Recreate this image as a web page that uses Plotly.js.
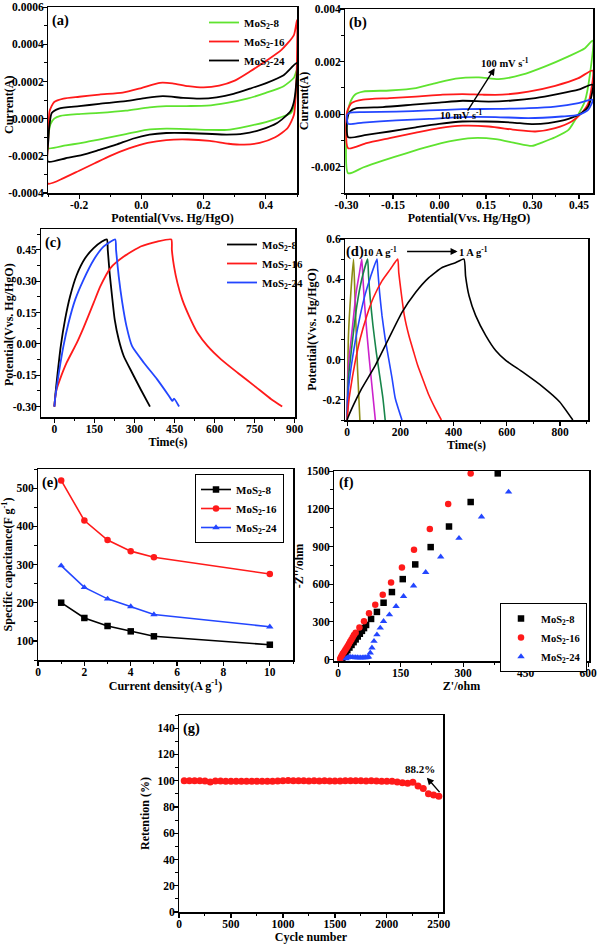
<!DOCTYPE html>
<html><head><meta charset="utf-8">
<script src="https://cdn.plot.ly/plotly-3.0.1.min.js"></script>
<style>html,body{margin:0;padding:0;background:#fff}#chart{width:598px;height:945px}</style>
</head><body><div id="chart"></div>
<script>
// ---------- (a) CV of three samples ----------
const seriesNames = ['MoS<sub>2</sub>-8', 'MoS<sub>2</sub>-16', 'MoS<sub>2</sub>-24'];
const a8UpV = [-0.299, -0.292, -0.28, -0.26, -0.2, -0.135, -0.05, 0.026, 0.08, 0.145, 0.21, 0.275, 0.34, 0.4, 0.457, 0.49, 0.5];
const a8UpI = [-0.0001, -0.00003, 0.0, 0.000015, 0.000025, 0.000031, 0.000043, 0.000061, 0.000067, 0.000068, 0.00007, 0.000085, 0.000108, 0.000139, 0.000175, 0.00022, 0.000265];
const a8DnV = [0.497, 0.49, 0.48, 0.447, 0.4, 0.34, 0.275, 0.21, 0.145, 0.08, 0.016, -0.05, -0.114, -0.178, -0.243, -0.3];
const a8DnI = [0.00015, 0.00007, 0.00003, 0.000007, -0.000018, -0.000041, -0.00006, -0.00006, -0.000056, -0.000054, -0.00006, -0.000083, -0.000105, -0.000126, -0.000144, -0.000159];
const a16UpV = [-0.299, -0.295, -0.28, -0.25, -0.2, -0.135, -0.06, 0.0, 0.06, 0.1, 0.15, 0.2, 0.25, 0.3, 0.35, 0.4, 0.45, 0.49, 0.5];
const a16UpI = [-0.0001, 0.00004, 0.00009, 0.000108, 0.000118, 0.00013, 0.00014, 0.000165, 0.000193, 0.00019, 0.000175, 0.000168, 0.000178, 0.000205, 0.000255, 0.00031, 0.00037, 0.00045, 0.00053];
const a16DnV = [0.498, 0.49, 0.47, 0.43, 0.38, 0.33, 0.28, 0.22, 0.15, 0.08, 0.02, -0.04, -0.1, -0.15, -0.2, -0.25, -0.3];
const a16DnI = [0.0002, 0.00002, -0.00005, -0.0001, -0.00013, -0.00014, -0.000135, -0.00012, -0.000112, -0.000115, -0.00013, -0.00016, -0.0002, -0.00024, -0.00028, -0.00032, -0.00035];
const a24UpV = [-0.299, -0.295, -0.288, -0.265, -0.2, -0.135, -0.05, 0.016, 0.069, 0.134, 0.188, 0.242, 0.296, 0.35, 0.403, 0.457, 0.5];
const a24UpI = [-0.00012, -0.00003, 0.00003, 0.000054, 0.000067, 0.00008, 0.000094, 0.000112, 0.000121, 0.000112, 0.000108, 0.000115, 0.000133, 0.000162, 0.000193, 0.000234, 0.0003];
const a24DnV = [0.497, 0.49, 0.479, 0.436, 0.382, 0.328, 0.274, 0.209, 0.145, 0.08, 0.026, -0.028, -0.081, -0.135, -0.189, -0.243, -0.3];
const a24DnI = [0.00018, 0.00009, 0.00004, -0.000023, -0.00006, -0.000081, -0.000086, -0.000081, -0.000077, -0.000077, -0.000086, -0.000108, -0.00014, -0.000168, -0.000195, -0.000213, -0.000231];
const aXTickVals = [-0.2, 0, 0.2, 0.4];
const aXTickText = ['-0.2', '0.0', '0.2', '0.4'];
const aYTickVals = [-0.0004, -0.0002, 0, 0.0002, 0.0004, 0.0006];
const aYTickText = ['-0.0004', '-0.0002', '0.0000', '0.0002', '0.0004', '0.0006'];

// ---------- (b) CV at scan rates ----------
const b100UpV = [-0.298, -0.289, -0.273, -0.247, -0.161, -0.076, -0.012, 0.052, 0.127, 0.191, 0.266, 0.341, 0.416, 0.469, 0.494];
const b100UpI = [-0.00015, 0.00042, 0.00074, 0.00086, 0.0009, 0.00099, 0.00118, 0.00135, 0.0014, 0.00133, 0.0015, 0.00182, 0.0022, 0.00251, 0.0028];
const b100DnV = [0.485, 0.469, 0.448, 0.416, 0.373, 0.33, 0.298, 0.245, 0.181, 0.106, 0.031, -0.033, -0.108, -0.183, -0.247, -0.295];
const b100DnI = [0.0015, 0.0005, 0.0, -0.0006, -0.00088, -0.00108, -0.00121, -0.0011, -0.00095, -0.00091, -0.00104, -0.00123, -0.00149, -0.00177, -0.00203, -0.00225];
const bRedUpV = [-0.298, -0.284, -0.247, -0.161, -0.076, 0.01, 0.074, 0.138, 0.202, 0.287, 0.373, 0.448, 0.494];
const bRedUpI = [0.0001, 0.00042, 0.00055, 0.00061, 0.00067, 0.00074, 0.00076, 0.00074, 0.00074, 0.00086, 0.00108, 0.00137, 0.00166];
const bRedDnV = [0.48, 0.458, 0.426, 0.373, 0.309, 0.245, 0.159, 0.074, -0.001, -0.076, -0.161, -0.236, -0.295];
const bRedDnI = [0.00042, 0.00004, -0.00028, -0.00053, -0.00066, -0.0006, -0.00047, -0.00044, -0.00053, -0.0007, -0.00091, -0.0011, -0.0013];
const bBlkUpV = [-0.298, -0.289, -0.268, -0.183, -0.086, -0.001, 0.074, 0.159, 0.234, 0.309, 0.384, 0.448, 0.494];
const bBlkUpI = [-0.00022, 0.0001, 0.00023, 0.00027, 0.00036, 0.00044, 0.00051, 0.00048, 0.00052, 0.00061, 0.00077, 0.00093, 0.00112];
const bBlkDnV = [0.48, 0.458, 0.416, 0.351, 0.298, 0.234, 0.149, 0.074, -0.001, -0.076, -0.161, -0.236, -0.295];
const bBlkDnI = [0.00029, 0.00004, -0.00018, -0.00034, -0.00038, -0.00032, -0.00028, -0.00028, -0.00037, -0.0005, -0.00066, -0.00079, -0.00088];
const b10UpV = [-0.298, -0.289, -0.247, -0.14, -0.033, 0.074, 0.181, 0.287, 0.373, 0.448, 0.494];
const b10UpI = [-0.00003, 0.00006, 0.00008, 0.0001, 0.00014, 0.00019, 0.0002, 0.00023, 0.00029, 0.00042, 0.00055];
const b10DnV = [0.48, 0.448, 0.394, 0.287, 0.181, 0.074, -0.033, -0.14, -0.247, -0.295];
const b10DnI = [0.00017, -0.00003, -0.00009, -0.00015, -0.00011, -0.00011, -0.00018, -0.00024, -0.00032, -0.00037];
const bXTickVals = [-0.3, -0.15, 0, 0.15, 0.3, 0.45];
const bXTickText = ['-0.30', '-0.15', '0.00', '0.15', '0.30', '0.45'];
const bYTickVals = [-0.002, 0, 0.002, 0.004];
const bYTickText = ['-0.002', '0.000', '0.002', '0.004'];

// ---------- (c) GCD of three samples ----------
const c8T = [0, 4, 11, 24, 40, 59, 84, 115, 147, 178, 197, 200, 207, 216, 226, 241, 260, 291, 323, 358];
const c8P = [-0.3, -0.24, -0.154, -0.011, 0.116, 0.228, 0.331, 0.41, 0.458, 0.49, 0.5, 0.45, 0.339, 0.228, 0.116, 0.021, -0.059, -0.138, -0.217, -0.3];
const c16T = [0, 3, 8, 21, 46, 84, 109, 147, 172, 210, 260, 323, 385, 438, 440, 448, 461, 479, 505, 536, 574, 624, 686, 749, 812, 853];
const c16P = [-0.3, -0.26, -0.22, -0.17, -0.09, 0.005, 0.077, 0.196, 0.275, 0.363, 0.418, 0.466, 0.49, 0.5, 0.45, 0.371, 0.291, 0.212, 0.132, 0.053, -0.011, -0.074, -0.138, -0.201, -0.265, -0.3];
const c24T = [0, 4, 15, 34, 53, 78, 109, 147, 184, 228, 231, 241, 254, 270, 291, 335, 385, 429, 442, 448, 467];
const c24P = [-0.3, -0.25, -0.154, -0.011, 0.1, 0.212, 0.307, 0.402, 0.466, 0.5, 0.45, 0.323, 0.2, 0.085, -0.011, -0.09, -0.17, -0.249, -0.273, -0.262, -0.3];
const cYTickVals = [-0.3, -0.15, 0, 0.15, 0.3, 0.45];
const cYTickText = ['-0.30', '-0.15', '0.00', '0.15', '0.30', '0.45'];

// ---------- (d) GCD at current densities ----------
const d1T = [0, 2.5, 24, 55, 106, 156, 206, 257, 307, 357, 407, 439, 445, 458, 483, 521, 558, 596, 659, 735, 798, 848];
const d1P = [-0.3, -0.29, -0.225, -0.143, -0.028, 0.104, 0.235, 0.334, 0.408, 0.458, 0.482, 0.5, 0.416, 0.318, 0.219, 0.12, 0.046, -0.003, -0.061, -0.135, -0.209, -0.3];
const d2T = [0, 5, 11, 30, 49, 74, 99, 131, 162, 190, 194, 203, 215, 232, 250, 265, 288, 307, 330, 354];
const d2P = [-0.3, -0.22, -0.16, -0.012, 0.104, 0.219, 0.309, 0.392, 0.449, 0.5, 0.433, 0.334, 0.219, 0.12, 0.038, -0.028, -0.11, -0.176, -0.24, -0.3];
const d3T = [0, 2, 11, 30, 49, 68, 87, 112, 115, 122, 131, 143, 156, 169, 181, 206];
const d3P = [-0.3, -0.19, -0.077, 0.087, 0.219, 0.326, 0.408, 0.5, 0.449, 0.334, 0.219, 0.104, 0.005, -0.094, -0.193, -0.3];
const d4T = [0, 5, 18, 36.5, 55, 77, 80.5, 87, 97, 109.5, 122, 134.6, 143];
const d4P = [-0.3, -0.094, 0.07, 0.268, 0.4, 0.5, 0.416, 0.301, 0.17, 0.038, -0.077, -0.193, -0.3];
const d5T = [0, 5, 18, 34, 46.5, 55, 59, 65, 74, 83, 93, 106];
const d5P = [-0.3, -0.028, 0.137, 0.334, 0.433, 0.5, 0.416, 0.285, 0.137, 0.005, -0.127, -0.3];
const d10T = [0, 5, 14, 24, 29, 34, 39, 48];
const d10P = [-0.3, 0.12, 0.334, 0.5, 0.334, 0.137, -0.044, -0.3];
const dYTickVals = [-0.2, 0, 0.2, 0.4, 0.6];
const dYTickText = ['-0.2', '0.0', '0.2', '0.4', '0.6'];

// ---------- (e) specific capacitance ----------
const eDensity = [1, 2, 3, 4, 5, 10];
const e8 = [200, 160, 139, 125, 112, 90];
const e16 = [520, 415, 364, 335, 319, 275];
const e24 = [297, 240, 210, 190, 169, 137];

// ---------- (f) Nyquist ----------
const f8Re = [383, 318, 266, 222, 185, 155, 129, 109, 93, 79, 67, 62, 57, 52, 47, 42, 37, 32, 27, 22, 18, 14, 11, 9];
const f8Im = [1482, 1254, 1059, 895, 757, 640, 537, 452, 379, 323, 275, 250, 228, 205, 183, 160, 138, 116, 95, 74, 54, 35, 18, 5];
const f16Re = [318, 264, 220, 182, 153, 127, 107, 89, 74, 62, 51, 42, 38, 35, 32, 29, 26, 23, 20, 17, 14, 11, 9, 7, 6, 5];
const f16Im = [1482, 1238, 1040, 873, 733, 614, 516, 435, 368, 304, 254, 212, 195, 178, 160, 143, 125, 108, 92, 76, 60, 45, 32, 20, 10, 3];
const f24Re = [409, 344, 290, 246, 210, 181, 157, 139, 123, 109, 101, 93, 86, 81, 77, 73, 70, 66, 62, 58, 54, 50, 46, 42, 38, 34, 30, 26, 22, 19];
const f24Im = [1334, 1136, 966, 818, 694, 587, 503, 423, 357, 304, 251, 198, 146, 93, 53, 21, 16, 15, 15, 14, 14, 14, 15, 15, 16, 17, 18, 20, 14, 6];

// ---------- (g) cycling ----------
const gCycles = [50,100,150,200,250,300,350,400,450,500,550,600,650,700,750,800,850,900,950,1000,1050,1100,1150,1200,1250,1300,1350,1400,1450,1500,1550,1600,1650,1700,1750,1800,1850,1900,1950,2000,2050,2100,2150,2200,2250,2300,2350,2400,2450,2500];
const gRetention = [100,100,100,100,99.8,99,99.7,99.7,99.6,99.6,99.6,99.5,99.6,99.6,99.6,99.5,99.5,99.6,99.7,100,100.1,100,100,100,99.7,100,99.8,100,99.7,99.7,99.7,100,100,100,100,99.8,100,99.8,99.6,99.6,99.5,99,98.5,98,98.8,96,94,90,89,88.2];

// ---------- styling ----------
const FONT = '"Liberation Serif", "Times New Roman", serif';
const GREEN = '#5fe32f', RED = '#ff1a1a', BLUE = '#2346ff', BLACK = '#000000';
const W = 598, H = 945;
const dx = (l, r) => [l / W, r / W];
const dy = (t, b) => [1 - b / H, 1 - t / H];
const tf = {family: FONT, size: 11.5, color: '#000', weight: 'bold'};
const TITLE_SIZE = 12;
const ttl = (text, standoff) => ({text, font: {family: FONT, size: TITLE_SIZE, color: '#000', weight: 'bold'}, standoff});

function xAxis(extra) {
  return Object.assign({
    showline: true, mirror: true, linecolor: '#000', linewidth: 1.5,
    ticks: 'outside', ticklen: 4, tickwidth: 1.2, tickcolor: '#000', ticklabelstandoff: -3,
    ticklabeloverflow: 'allow',
    showgrid: false, zeroline: false, tickfont: tf, fixedrange: true
  }, extra);
}
function yAxis(extra) {
  return Object.assign({
    showline: true, mirror: true, linecolor: '#000', linewidth: 1.5,
    ticks: 'outside', ticklen: 3.5, tickwidth: 1.2, tickcolor: '#000', ticklabelstandoff: -3,
    ticklabeloverflow: 'allow',
    showgrid: false, zeroline: false, tickfont: tf, fixedrange: true
  }, extra);
}
const minor = (tick0, dtick) => ({tick0, dtick, ticks: 'outside', ticklen: 2.5, tickwidth: 1, tickcolor: '#000', showgrid: false});
const loop = (uv, ui, dv, di) => ({x: uv.concat(dv, [uv[0]]), y: ui.concat(di, [ui[0]])});

const traces = [];
// (a)
[[a8UpV, a8UpI, a8DnV, a8DnI, GREEN], [a16UpV, a16UpI, a16DnV, a16DnI, RED], [a24UpV, a24UpI, a24DnV, a24DnI, BLACK]].forEach((s, i) => {
  const l = loop(s[0], s[1], s[2], s[3]);
  traces.push({x: l.x, y: l.y, xaxis: 'x', yaxis: 'y', mode: 'lines', name: seriesNames[i], legend: 'legend',
    line: {color: s[4], width: 1.8, shape: 'spline', smoothing: 0.6}});
});
// (b)
[[b100UpV, b100UpI, b100DnV, b100DnI, GREEN], [bRedUpV, bRedUpI, bRedDnV, bRedDnI, RED], [bBlkUpV, bBlkUpI, bBlkDnV, bBlkDnI, BLACK], [b10UpV, b10UpI, b10DnV, b10DnI, BLUE]].forEach(s => {
  const l = loop(s[0], s[1], s[2], s[3]);
  traces.push({x: l.x, y: l.y, xaxis: 'x2', yaxis: 'y2', mode: 'lines', showlegend: false,
    line: {color: s[4], width: 1.8, shape: 'spline', smoothing: 0.6}});
});
// (c)
[[c8T, c8P, BLACK], [c16T, c16P, RED], [c24T, c24P, BLUE]].forEach((s, i) => {
  traces.push({x: s[0], y: s[1], xaxis: 'x3', yaxis: 'y3', mode: 'lines', name: seriesNames[i], legend: 'legend2',
    line: {color: s[2], width: 1.8, shape: 'spline', smoothing: 0.5}});
});
// (d)
[[d10T, d10P, '#8c8c14'], [d5T, d5P, '#cc22cc'], [d4T, d4P, '#17854a'], [d3T, d3P, BLUE], [d2T, d2P, RED], [d1T, d1P, BLACK]].forEach(s => {
  traces.push({x: s[0], y: s[1], xaxis: 'x4', yaxis: 'y4', mode: 'lines', showlegend: false,
    line: {color: s[2], width: 1.6, shape: 'spline', smoothing: 0.5}});
});
// (e)
[[e8, BLACK, 'square'], [e16, RED, 'circle'], [e24, BLUE, 'triangle-up']].forEach((s, i) => {
  traces.push({x: eDensity, y: s[0], xaxis: 'x5', yaxis: 'y5', mode: 'lines+markers', name: seriesNames[i], legend: 'legend3',
    line: {color: s[1], width: 1.6}, marker: {color: s[1], symbol: s[2], size: 6.5}});
});
// (f)
[[f8Re, f8Im, BLACK, 'square'], [f16Re, f16Im, RED, 'circle'], [f24Re, f24Im, BLUE, 'triangle-up']].forEach((s, i) => {
  traces.push({x: s[0], y: s[1], xaxis: 'x6', yaxis: 'y6', mode: 'markers', name: seriesNames[i], legend: 'legend4',
    marker: {color: s[2], symbol: s[3], size: 6.5}});
});
// (g)
traces.push({x: gCycles, y: gRetention, xaxis: 'x7', yaxis: 'y7', mode: 'markers', showlegend: false,
  marker: {color: RED, symbol: 'circle', size: 7}});

const legFont = {family: FONT, size: 11, color: '#000', weight: 'bold'};
const panelLabel = (t, x, y) => ({text: t, xref: 'paper', yref: 'paper', x: x / W, y: 1 - y / H, xanchor: 'left', yanchor: 'middle', showarrow: false, font: {family: FONT, size: 14.5, color: '#000', weight: 'bold'}});
const annFont = {family: FONT, size: 10.5, color: '#000', weight: 'bold'};
const yTitleAnn = (text, x, y) => ({text, xref: 'paper', yref: 'paper', x: x / W, y: 1 - y / H, textangle: -90, showarrow: false, xanchor: 'center', yanchor: 'middle', font: {family: FONT, size: TITLE_SIZE, color: '#000', weight: 'bold'}});

const layout = {
  width: W, height: H, margin: {l: 0, r: 0, t: 0, b: 0},
  paper_bgcolor: '#fff', plot_bgcolor: '#fff', showlegend: true,
  font: {family: FONT, color: '#000'},
  xaxis: xAxis({domain: dx(48, 297), anchor: 'y', range: [-0.3, 0.5], tickmode: 'array', tickvals: aXTickVals, ticktext: aXTickText, minor: minor(0, 0.1), title: ttl('Potential(Vvs. Hg/HgO)', 0)}),
  yaxis: yAxis({domain: dy(7, 193), anchor: 'x', range: [-0.0004, 0.000601], tickmode: 'array', tickvals: aYTickVals, ticktext: aYTickText, minor: minor(0, 0.0001)}),
  xaxis2: xAxis({domain: dx(345, 593), anchor: 'y2', range: [-0.305, 0.495], tickmode: 'array', tickvals: bXTickVals, ticktext: bXTickText, minor: minor(0, 0.075), title: ttl('Potential(Vvs. Hg/HgO)', 0)}),
  yaxis2: yAxis({domain: dy(9, 193), anchor: 'x2', range: [-0.003, 0.004001], tickmode: 'array', tickvals: bYTickVals, ticktext: bYTickText, minor: minor(0, 0.001), title: ttl('Current(A)', 0)}),
  xaxis3: xAxis({domain: dx(41, 295), anchor: 'y3', range: [-50, 901], dtick: 150, tick0: 0, minor: minor(0, 75), title: ttl('Time(s)', 1)}),
  yaxis3: yAxis({domain: dy(229, 417), anchor: 'x3', range: [-0.35, 0.55], tickmode: 'array', tickvals: cYTickVals, ticktext: cYTickText, minor: minor(0, 0.075)}),
  xaxis4: xAxis({domain: dx(345, 588), anchor: 'y4', range: [-8, 905], dtick: 200, tick0: 0, minor: minor(0, 100), title: ttl('Time(s)', 0)}),
  yaxis4: yAxis({domain: dy(239, 420), anchor: 'x4', range: [-0.3, 0.6001], tickmode: 'array', tickvals: dYTickVals, ticktext: dYTickText, minor: minor(0, 0.1), title: ttl('Potential(Vvs. Hg/HgO)', 3)}),
  xaxis5: xAxis({domain: dx(38, 293), anchor: 'y5', range: [0, 11], dtick: 2, tick0: 0, minor: minor(0, 1), title: ttl('Current density(A g<sup>-1</sup>)', 1)}),
  yaxis5: yAxis({domain: dy(469, 660), anchor: 'x5', range: [50, 550], dtick: 100, tick0: 0, minor: minor(0, 50), title: ttl('Specific capacitance(F g<sup>-1</sup>)', 2)}),
  xaxis6: xAxis({domain: dx(334, 589), anchor: 'y6', range: [-10, 602], dtick: 150, tick0: 0, minor: minor(0, 75), title: ttl("Z'/ohm", 0)}),
  yaxis6: yAxis({domain: dy(471, 661), anchor: 'x6', range: [-12, 1501], dtick: 300, tick0: 0, minor: minor(0, 150), title: ttl("-Z''/ohm", 0)}),
  xaxis7: xAxis({domain: dx(179, 443), anchor: 'y7', range: [0, 2540], dtick: 500, tick0: 0, minor: minor(0, 250), title: ttl('Cycle number', 3)}),
  yaxis7: yAxis({domain: dy(715, 912), anchor: 'x7', range: [0, 150], dtick: 20, tick0: 0, minor: minor(0, 10), title: ttl('Retention (%)', 5)}),
  legend: {x: 204 / W, y: 1 - 8 / H, xanchor: 'left', yanchor: 'top', bgcolor: 'rgba(0,0,0,0)', borderwidth: 0, font: legFont, itemwidth: 30, tracegroupgap: 0},
  legend2: {x: 222 / W, y: 1 - 230 / H, xanchor: 'left', yanchor: 'top', bgcolor: 'rgba(0,0,0,0)', borderwidth: 0, font: legFont, itemwidth: 30},
  legend3: {x: 284 / W, y: 1 - 474 / H, xanchor: 'right', yanchor: 'top', bgcolor: '#fff', bordercolor: '#000', borderwidth: 1, font: legFont, itemwidth: 30},
  legend4: {x: 587 / W, y: 1 - 603 / H, xanchor: 'right', yanchor: 'top', bgcolor: '#fff', bordercolor: '#000', borderwidth: 1, font: {family: FONT, size: 10.5, color: '#000', weight: 'bold'}, itemwidth: 30},
  annotations: [
    panelLabel('(a)', 50, 20), panelLabel('(b)', 347, 23), panelLabel('(c)', 43, 242), panelLabel('(d)', 344, 252),
    panelLabel('(e)', 40, 482), panelLabel('(f)', 337, 483), panelLabel('(g)', 181, 728),
    yTitleAnn('Current(A)', 9, 105),
    yTitleAnn('Potential(Vvs. Hg/HgO)', 9, 325),
    {text: '100 mV s<sup>-1</sup>', xref: 'x2', yref: 'y2', x: 0.21, y: 0.00198, showarrow: false, font: annFont},
    {text: '10 mV s<sup>-1</sup>', xref: 'x2', yref: 'y2', x: 0.069, y: 0.0, showarrow: false, font: annFont},
    {text: '', xref: 'x2', yref: 'y2', x: 0.178, y: 0.00175, ax: -28, ay: 44, showarrow: true, arrowhead: 2, arrowsize: 1, arrowwidth: 1.4, arrowcolor: '#000'},
    {text: '10 A g<sup>-1</sup>', xref: 'x4', yref: 'y4', x: 124, y: 0.538, showarrow: false, font: annFont},
    {text: '', xref: 'x4', yref: 'y4', x: 415, y: 0.538, ax: -52, ay: 0, showarrow: true, arrowhead: 2, arrowsize: 1, arrowwidth: 1.4, arrowcolor: '#000'},
    {text: '1 A g<sup>-1</sup>', xref: 'x4', yref: 'y4', x: 476, y: 0.538, showarrow: false, font: annFont},
    {text: '88.2%', xref: 'x7', yref: 'y7', x: 2317, y: 109, showarrow: false, font: {family: FONT, size: 11, color: '#000', weight: 'bold'}},
    {text: '', xref: 'x7', yref: 'y7', x: 2385, y: 102.3, ax: 14, ay: 16, showarrow: true, arrowhead: 2, arrowsize: 1, arrowwidth: 1.4, arrowcolor: '#000'}
  ]
};

Plotly.newPlot('chart', traces, layout, {displayModeBar: false, staticPlot: true});
</script></body></html>
